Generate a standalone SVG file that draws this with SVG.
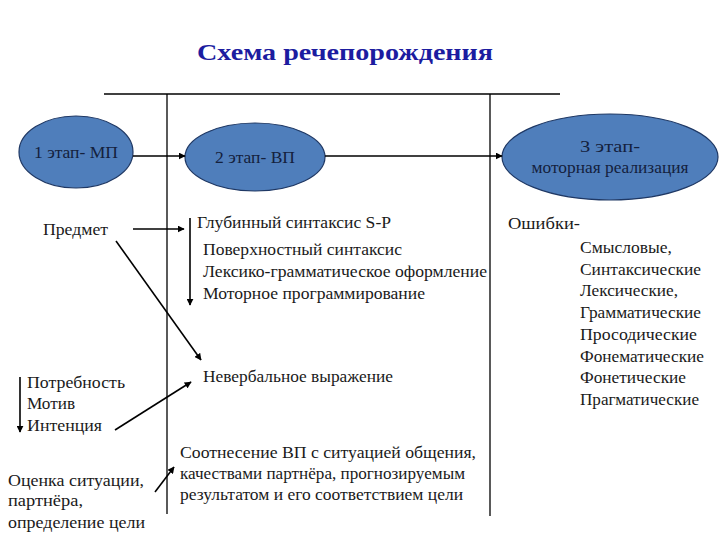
<svg xmlns="http://www.w3.org/2000/svg" width="720" height="540" viewBox="0 0 720 540" font-family="Liberation Serif, Times New Roman, serif">
<style>
.t{font-size:16px;fill:#1a1a1a}
.e{fill:#4f7ebb;stroke:#1f3864;stroke-width:1.2}
.et{font-size:16px;fill:#14213d;text-anchor:middle}
.ln{stroke:#000;stroke-width:1.3;fill:none}
.ar{stroke:#000;stroke-width:1.6;fill:none;marker-end:url(#ah)}
</style>
<defs>
<marker id="ah" viewBox="0 0 10 10" refX="9" refY="5" markerWidth="7" markerHeight="7" markerUnits="userSpaceOnUse" orient="auto">
<path d="M0,0 L10,5 L0,10 z" fill="#000"/>
</marker>
</defs>
<rect width="720" height="540" fill="#fff"/>
<text x="345" y="60" text-anchor="middle" font-size="24" font-weight="bold" fill="#1c1ca0" textLength="296" lengthAdjust="spacingAndGlyphs">Схема речепорождения</text>
<g id="frame">
<line class="ln" x1="104" y1="94" x2="560" y2="94"/>
<line class="ln" x1="167" y1="94" x2="167" y2="514"/>
<line class="ln" x1="490" y1="94" x2="490" y2="516"/>
</g>
<g id="n1"><ellipse class="e" cx="76" cy="152" rx="57" ry="36"/><text class="et" x="76" y="158" textLength="84" lengthAdjust="spacingAndGlyphs">1 этап- МП</text></g>
<g id="n2"><ellipse class="e" cx="255" cy="157" rx="70" ry="34"/><text class="et" x="255" y="163" textLength="80" lengthAdjust="spacingAndGlyphs">2 этап- ВП</text></g>
<g id="n3"><ellipse class="e" cx="610" cy="157" rx="108" ry="43"/><text class="et" x="610" y="152" textLength="60" lengthAdjust="spacingAndGlyphs">3 этап-</text><text class="et" x="610" y="173" textLength="157" lengthAdjust="spacingAndGlyphs">моторная реализация</text></g>
<g id="left">
<text class="t" x="43" y="235" textLength="65" lengthAdjust="spacingAndGlyphs">Предмет</text>
<text class="t" x="27" y="388" textLength="98" lengthAdjust="spacingAndGlyphs">Потребность</text>
<text class="t" x="27" y="409" textLength="48" lengthAdjust="spacingAndGlyphs">Мотив</text>
<text class="t" x="27" y="431" textLength="75" lengthAdjust="spacingAndGlyphs">Интенция</text>
<text class="t" x="8" y="486" textLength="136" lengthAdjust="spacingAndGlyphs">Оценка ситуации,</text>
<text class="t" x="8" y="506" textLength="75" lengthAdjust="spacingAndGlyphs">партнёра,</text>
<text class="t" x="8" y="528" textLength="137" lengthAdjust="spacingAndGlyphs">определение цели</text>
</g>
<g id="mid">
<text class="t" x="197" y="228" textLength="194" lengthAdjust="spacingAndGlyphs">Глубинный синтаксис S-P</text>
<text class="t" x="203" y="255" textLength="199" lengthAdjust="spacingAndGlyphs">Поверхностный синтаксис</text>
<text class="t" x="203" y="277" textLength="284" lengthAdjust="spacingAndGlyphs">Лексико-грамматическое оформление</text>
<text class="t" x="203" y="299" textLength="222" lengthAdjust="spacingAndGlyphs">Моторное программирование</text>
<text class="t" x="203" y="382" textLength="190" lengthAdjust="spacingAndGlyphs">Невербальное выражение</text>
<text class="t" x="180" y="458" textLength="296" lengthAdjust="spacingAndGlyphs">Соотнесение ВП с ситуацией общения,</text>
<text class="t" x="180" y="479" textLength="285" lengthAdjust="spacingAndGlyphs">качествами партнёра, прогнозируемым</text>
<text class="t" x="180" y="500" textLength="283" lengthAdjust="spacingAndGlyphs">результатом и его соответствием цели</text>
</g>
<g id="right">
<text class="t" x="508" y="229" textLength="72" lengthAdjust="spacingAndGlyphs">Ошибки-</text>
<text class="t" x="580" y="253" textLength="92" lengthAdjust="spacingAndGlyphs">Смысловые,</text>
<text class="t" x="580" y="275" textLength="121" lengthAdjust="spacingAndGlyphs">Синтаксические</text>
<text class="t" x="580" y="296" textLength="98" lengthAdjust="spacingAndGlyphs">Лексические,</text>
<text class="t" x="580" y="318" textLength="121" lengthAdjust="spacingAndGlyphs">Грамматические</text>
<text class="t" x="580" y="340" textLength="117" lengthAdjust="spacingAndGlyphs">Просодические</text>
<text class="t" x="580" y="362" textLength="124" lengthAdjust="spacingAndGlyphs">Фонематические</text>
<text class="t" x="580" y="383" textLength="106" lengthAdjust="spacingAndGlyphs">Фонетические</text>
<text class="t" x="580" y="405" textLength="119" lengthAdjust="spacingAndGlyphs">Прагматические</text>
</g>
<g id="connectors">
<line class="ar" x1="133" y1="156" x2="185" y2="156"/>
<line class="ar" x1="325" y1="156" x2="502" y2="156"/>
<line class="ar" x1="133" y1="229" x2="184" y2="229"/>
<line class="ar" x1="190" y1="218" x2="190" y2="305"/>
<line class="ar" x1="116" y1="241" x2="201" y2="360"/>
<line class="ar" x1="20" y1="377" x2="20" y2="432"/>
<line class="ar" x1="115" y1="430" x2="191" y2="382"/>
<line class="ar" x1="155" y1="492" x2="174" y2="467"/>
</g>
</svg>
